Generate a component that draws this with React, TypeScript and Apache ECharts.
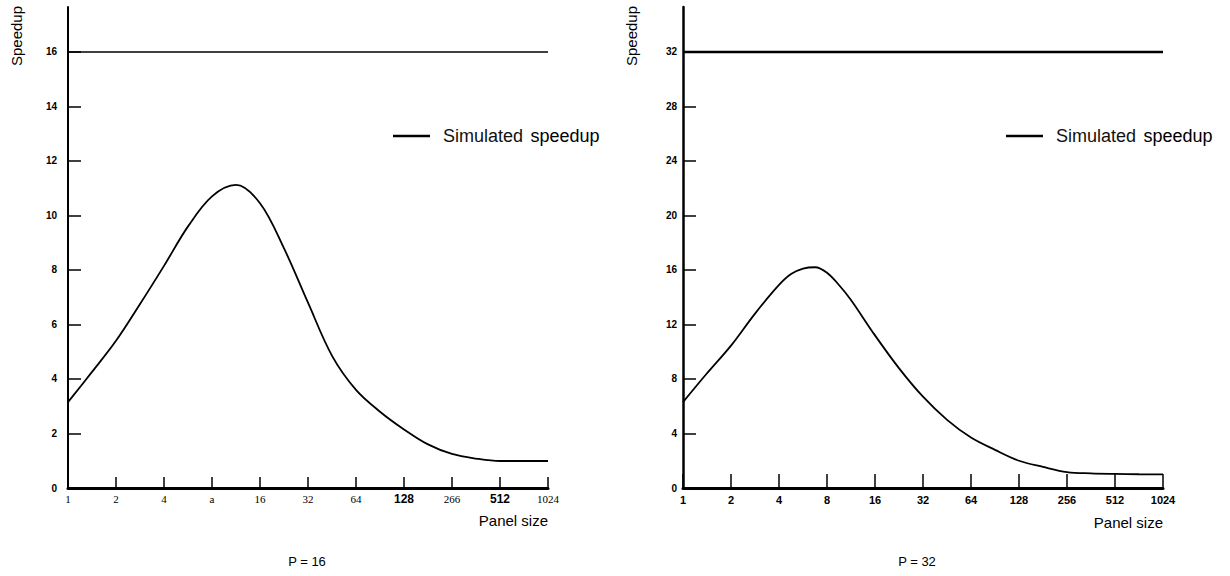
import React, { useEffect, useRef } from "react";
import * as echarts from "echarts";

// Panel sizes (x, half-octave steps) and speedups
const panelSizes = [1, 1.41, 2, 2.83, 4, 5.66, 8, 11.31, 16, 22.6, 32, 45.3, 64, 90.5, 128, 181, 256, 362, 512, 724, 1024];
const speedP16 = [3.15, 4.25, 5.4, 6.75, 8.15, 9.6, 10.7, 11.12, 10.45, 8.8, 6.8, 4.85, 3.6, 2.8, 2.15, 1.6, 1.25, 1.08, 0.99, 0.99, 0.99];

const panelSizesP32 = [1, 1.41, 2, 2.83, 4, 4.76, 5.66, 6.73, 8, 9.51, 11.31, 16, 22.6, 32, 45.3, 64, 90.5, 128, 181, 256, 362, 512, 724, 1024];
const speedP32 = [6.3, 8.4, 10.45, 12.8, 14.9, 15.7, 16.1, 16.2, 15.8, 14.9, 13.8, 11.2, 8.8, 6.7, 5.0, 3.7, 2.8, 2.0, 1.55, 1.17, 1.07, 1.03, 1.01, 1.0];

const idealP16 = 16;
const idealP32 = 32;

const xTickLabelsP16 = ["1", "2", "4", "a", "16", "32", "64", "128", "266", "512", "1024"];
const boldLabelsP16 = ["128", "512"];
const xTickLabelsP32 = ["1", "2", "4", "8", "16", "32", "64", "128", "256", "512", "1024"];

const yTicksP16 = [0, 2, 4, 6, 8, 10, 12, 14, 16];
const yTicksP32 = [0, 4, 8, 12, 16, 20, 24, 28, 32];

const SANS = "'Liberation Sans', Arial, sans-serif";
const SERIF = "'Liberation Serif', 'Times New Roman', serif";

export default function App() {
  const ref = useRef<HTMLDivElement>(null);

  useEffect(() => {
    if (!ref.current) return;
    const chart = echarts.init(ref.current, null, { renderer: "svg" });

    const xAxisBase = (i: number) => ({
      gridIndex: i,
      type: "log",
      logBase: 2,
      min: 1,
      max: 1024,
      interval: 1,
      splitNumber: 10,
      axisLine: { lineStyle: { color: "#000", width: 3 } },
      axisTick: { inside: true, length: i === 0 ? 11 : 14, lineStyle: { color: "#000", width: 1.5 } },
      splitLine: { show: false },
    });

    const legendText = {
      padding: [0, 0, 0, 8],
      rich: {
        n: { fontFamily: SANS, fontSize: 18, color: "#111" },
        b: { fontFamily: SANS, fontSize: 18, fontWeight: 500, color: "#000", padding: [0, 0, 0, 4] },
      },
    };

    const option: any = {
      animation: false,
      backgroundColor: "#fff",
      grid: [
        { left: 68, top: 7, width: 480, height: 481 },
        { left: 683, top: 7, width: 480, height: 481 },
      ],
      title: [
        { text: "P = 16", left: 307, top: 555, textAlign: "center", padding: 0, textStyle: { fontFamily: SANS, fontSize: 13, fontWeight: "normal", color: "#000" } },
        { text: "P = 32", left: 917, top: 555, textAlign: "center", padding: 0, textStyle: { fontFamily: SANS, fontSize: 13, fontWeight: "normal", color: "#000" } },
      ],
      legend: [
        {
          left: 393, top: 127, padding: 0, icon: "rect", itemWidth: 37, itemHeight: 2.5,
          data: ["Simulated speedup P16"],
          formatter: () => "{n|Simulated} {b|speedup}",
          textStyle: legendText,
        },
        {
          left: 1006, top: 127, padding: 0, icon: "rect", itemWidth: 37, itemHeight: 2.5,
          data: ["Simulated speedup P32"],
          formatter: () => "{n|Simulated} {b|speedup}",
          textStyle: legendText,
        },
      ],
      xAxis: [
        {
          ...xAxisBase(0),
          axisLabel: {
            margin: 5,
            color: "#000",
            fontFamily: SERIF,
            fontSize: 11,
            formatter: (v: number) => {
              const s = xTickLabelsP16[Math.round(Math.log2(v))] ?? "";
              return boldLabelsP16.includes(s) ? `{b|${s}}` : s;
            },
            rich: { b: { fontFamily: SANS, fontWeight: "bold", fontSize: 12, color: "#000" } },
          },
        },
        {
          ...xAxisBase(1),
          axisLabel: {
            margin: 6,
            color: "#000",
            fontFamily: SANS,
            fontWeight: "bold",
            fontSize: 11,
            formatter: (v: number) => xTickLabelsP32[Math.round(Math.log2(v))] ?? "",
          },
        },
      ],
      yAxis: [
        {
          gridIndex: 0,
          type: "value",
          min: 0,
          max: 17.65,
          axisLine: { show: true, lineStyle: { color: "#000", width: 2 } },
          axisTick: { show: true, inside: true, length: 13, customValues: yTicksP16.slice(1), lineStyle: { color: "#000", width: 1.5 } },
          axisLabel: { customValues: yTicksP16, margin: 11, color: "#000", fontFamily: SANS, fontWeight: "bold", fontSize: 10 },
          splitLine: { show: false },
        },
        {
          gridIndex: 1,
          type: "value",
          min: 0,
          max: 35.3,
          axisLine: { show: true, lineStyle: { color: "#000", width: 2.5 } },
          axisTick: { show: true, inside: true, length: 13, customValues: yTicksP32.slice(1), lineStyle: { color: "#000", width: 1.5 } },
          axisLabel: { customValues: yTicksP32, margin: 6, color: "#000", fontFamily: SANS, fontWeight: "bold", fontSize: 10 },
          splitLine: { show: false },
        },
      ],
      series: [
        {
          name: "Ideal P16", type: "line", xAxisIndex: 0, yAxisIndex: 0, symbol: "none",
          data: [[1, idealP16], [1024, idealP16]],
          lineStyle: { color: "#000", width: 1.5 },
        },
        {
          name: "Simulated speedup P16", type: "line", xAxisIndex: 0, yAxisIndex: 0, symbol: "none", smooth: 0.35,
          data: panelSizes.map((x, i) => [x, speedP16[i]]),
          lineStyle: { color: "#000", width: 1.8 }, itemStyle: { color: "#000" },
        },
        {
          name: "Ideal P32", type: "line", xAxisIndex: 1, yAxisIndex: 1, symbol: "none",
          data: [[1, idealP32], [1024, idealP32]],
          lineStyle: { color: "#000", width: 2.5 },
        },
        {
          name: "Simulated speedup P32", type: "line", xAxisIndex: 1, yAxisIndex: 1, symbol: "none", smooth: 0.35,
          data: panelSizesP32.map((x, i) => [x, speedP32[i]]),
          lineStyle: { color: "#000", width: 1.8 }, itemStyle: { color: "#000" },
        },
      ],
      graphic: [
        { type: "text", x: 16, y: 36, rotation: Math.PI / 2, style: { text: "Speedup", font: `15px ${SANS}`, fill: "#000", align: "center", verticalAlign: "middle" } },
        { type: "text", x: 631, y: 36, rotation: Math.PI / 2, style: { text: "Speedup", font: `15px ${SANS}`, fill: "#000", align: "center", verticalAlign: "middle" } },
        { type: "text", x: 548, y: 520, style: { text: "Panel size", font: `15px ${SANS}`, fill: "#000", align: "right", verticalAlign: "middle" } },
        { type: "text", x: 1163, y: 522, style: { text: "Panel size", font: `15px ${SANS}`, fill: "#000", align: "right", verticalAlign: "middle" } },
      ],
    };

    chart.setOption(option);
    return () => chart.dispose();
  }, []);

  return (
    <div
      ref={ref}
      style={{ position: "fixed", left: 0, top: 0, width: 1230, height: 576, background: "#fff" }}
    />
  );
}
